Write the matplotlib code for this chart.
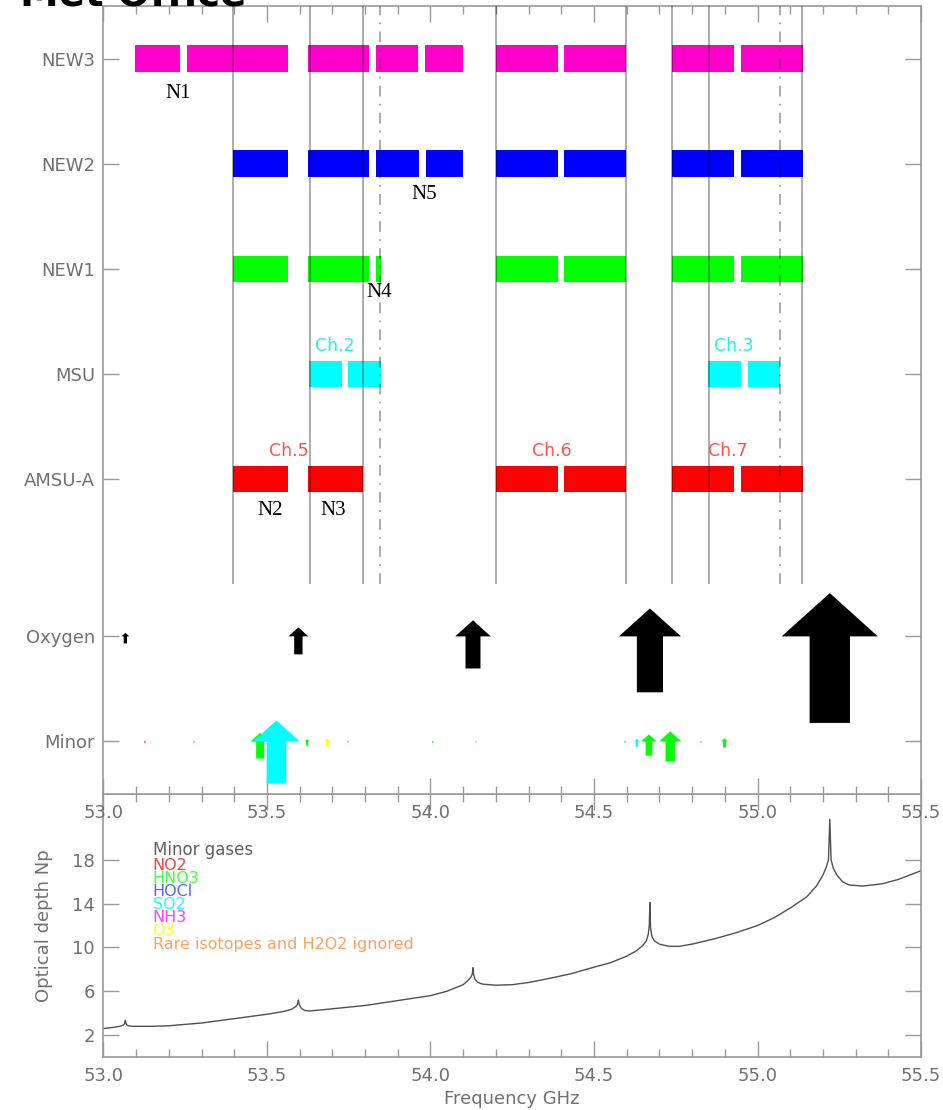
import numpy as np
import matplotlib.pyplot as plt
from matplotlib.patches import FancyArrow
from matplotlib.ticker import MultipleLocator, FormatStrFormatter

# rows of upper panel
row_names=["Minor","Oxygen","AMSU-A","MSU","NEW1","NEW2","NEW3"]
row_y=[0,1,2.5,3.5,4.5,5.5,6.5]

# passbands (GHz)
new3=[(53.095,53.234),(53.257,53.565),(53.624,53.813),(53.833,53.963),(53.984,54.099),
      (54.201,54.389),(54.409,54.598),(54.739,54.929),(54.949,55.139)]
new2=[(53.395,53.565),(53.624,53.813),(53.833,53.964),(53.986,54.099),
      (54.201,54.389),(54.409,54.598),(54.739,54.929),(54.949,55.139)]
new1=[(53.395,53.565),(53.624,53.813),(53.833,53.849),
      (54.201,54.389),(54.409,54.598),(54.739,54.929),(54.949,55.139)]
msu=[(53.630,53.730),(53.749,53.849),(54.850,54.948),(54.970,55.069)]
amsu=[(53.395,53.565),(53.625,53.795),(54.201,54.389),(54.409,54.598),(54.739,54.929),(54.949,55.139)]
bands=[amsu,msu,new1,new2,new3]
band_rows=[2.5,3.5,4.5,5.5,6.5]
band_cols=["#ff0000","#00ffff","#00ff00","#0000ff","#ff00cc"]

# channel edges
edges_solid=[53.395,53.632,53.793,54.2006,54.598,54.739,54.851,55.136]
edges_dash=[53.847,55.069]

# channel names
amsu_ch=["Ch.5","Ch.6","Ch.7"]
amsu_ch_f=[53.566,54.371,54.909]
msu_ch=["Ch.2","Ch.3"]
msu_ch_f=[53.708,54.929]

# N labels
n_names=["N1","N2","N3","N4","N5"]
n_freq=[53.228,53.51,53.704,53.844,53.982]
n_row=[6.5,2.5,2.5,4.5,5.5]
n_off=[0.33,0.30,0.30,0.23,0.29]

# oxygen lines, arrow size in GHz
o2_freq=[53.067,53.596,54.130,54.671,55.221]
o2_size=[0.024,0.061,0.109,0.190,0.294]

# minor gas lines
gas_names=["NO2","HNO3","HOCl","SO2","NH3","O3"]
gas_cols=["#ff0000","#00ff00","#0000ff","#00ffff","#ff00ff","#ffff00"]
minor_freq=[53.127,53.277,53.479,53.623,53.748,54.007,54.595,54.668,54.733,54.827,54.899,
            53.529,54.139,54.631,53.685]
minor_size=[0.006,0.006,0.058,0.015,0.006,0.006,0.006,0.048,0.068,0.006,0.021,
            0.143,0.006,0.018,0.018]
minor_gas=["NO2","HNO3","HNO3","HNO3","HNO3","HNO3","HNO3","HNO3","HNO3","HNO3","HNO3",
           "SO2","SO2","SO2","O3"]

# total optical depth
tau_f=[53.00,53.03,53.05,53.06,53.064,53.067,53.070,53.075,53.09,53.15,53.20,53.25,53.30,53.35,53.40,
       53.45,53.50,53.55,53.575,53.588,53.593,53.596,53.599,53.605,53.615,53.63,53.70,53.80,53.90,54.00,
       54.05,54.10,54.115,54.124,54.128,54.130,54.132,54.136,54.145,54.16,54.20,54.25,54.30,54.36,54.43,
       54.50,54.55,54.60,54.63,54.65,54.66,54.666,54.669,54.671,54.673,54.677,54.685,54.70,54.73,54.76,
       54.80,54.87,54.93,55.00,55.05,55.10,55.15,55.18,55.20,55.21,55.217,55.221,55.225,55.232,55.243,
       55.26,55.28,55.32,55.38,55.43,55.50]
tau=[2.6,2.7,2.8,2.9,3.0,3.35,3.0,2.85,2.8,2.8,2.85,2.98,3.1,3.3,3.5,
     3.7,3.9,4.15,4.35,4.6,4.8,5.2,4.75,4.45,4.25,4.2,4.4,4.7,5.15,5.6,
     6.0,6.6,7.0,7.3,7.6,8.15,7.5,7.1,6.8,6.65,6.55,6.6,6.8,7.15,7.6,
     8.2,8.6,9.2,9.7,10.2,10.6,11.2,12.0,14.1,11.8,11.0,10.6,10.3,10.1,10.1,
     10.3,10.8,11.3,12.0,12.7,13.6,14.6,15.6,16.6,17.3,18.0,21.7,18.0,17.2,16.6,
     16.0,15.7,15.6,15.8,16.2,17.0]

legend_txt=["Minor gases"]+gas_names+["Rare isotopes and H2O2 ignored"]
legend_col=["#606060","#ff4040","#40ff40","#6060ff","#20ffff","#ff40ff","#ffff20","#ffa060"]

grey="#999999"
tgrey="#707070"

fig=plt.figure(figsize=(9.43,11.10),dpi=100)
ax=fig.add_axes([0.1097,0.2847,0.867,0.7099])
ax2=fig.add_axes([0.1097,0.04775,0.867,0.2369])
ax.set_zorder(3)

ax.set_xlim(53,55.5)
ax.set_ylim(-0.5,7)
ax2.set_xlim(53,55.5)
ax2.set_ylim(0,24)

for b,r,c in zip(bands,band_rows,band_cols):
    ax.broken_barh([(s,e-s) for s,e in b],(r-0.125,0.25),facecolors=c,zorder=2)

ax.vlines(edges_solid,1.5,7,colors="k",alpha=0.35,lw=1.3,zorder=3)
ax.vlines(edges_dash,1.5,7,colors="k",alpha=0.35,lw=1.3,linestyles=(0,(6,4,1,4)),zorder=3)

for t,f in zip(amsu_ch,amsu_ch_f):
    ax.text(f,2.5+0.26,t,color="#ff5050",fontsize=12.5,ha="center",va="center")
for t,f in zip(msu_ch,msu_ch_f):
    ax.text(f,3.5+0.26,t,color="#20f0f0",fontsize=12.5,ha="center",va="center")
for t,f,r,o in zip(n_names,n_freq,n_row,n_off):
    ax.text(f,r-o,t,color="k",fontsize=15,family="Liberation Serif",ha="center",va="center",zorder=5)

# arrows: need y-units per GHz on screen
p0=ax.transData.transform((53,0))
p1=ax.transData.transform((54,1))
k=(p1[0]-p0[0])/(p1[1]-p0[1])

def arrow(f,y0,w,col):
    hl=0.45*w*k
    sl=0.9*w*k
    a=FancyArrow(f,y0-sl,0,sl+hl,width=0.42*w,head_width=w,head_length=hl,
                 length_includes_head=True,color=col,lw=0,zorder=4)
    ax.add_patch(a)

for f,w in zip(o2_freq,o2_size):
    arrow(f,1,w,"k")
for g,c in zip(gas_names,gas_cols):
    for f,w,gg in zip(minor_freq,minor_size,minor_gas):
        if gg==g:
            arrow(f,0,w,c)

ax.set_yticks(row_y)
ax.set_yticklabels(row_names)
for a in (ax,ax2):
    a.xaxis.set_major_locator(MultipleLocator(0.5))
    a.xaxis.set_minor_locator(MultipleLocator(0.1))
    a.xaxis.set_major_formatter(FormatStrFormatter("%.1f"))
    a.tick_params(axis="x",which="major",direction="in",top=True,bottom=True,length=11.5,width=1,color=grey,
                  labelsize=13,labelcolor=tgrey,pad=7.5)
    a.tick_params(axis="x",which="minor",direction="in",top=True,bottom=True,length=5.8,width=1,color=grey)
    a.tick_params(axis="y",which="both",direction="in",left=True,right=True,length=11.5,width=1,color=grey,
                  labelsize=13,labelcolor=tgrey,pad=6)
    for s in a.spines.values():
        s.set_color(grey)
        s.set_linewidth(1.2)
ax2.yaxis.set_minor_locator(plt.NullLocator())
ax2.set_yticks([2,6,10,14,18])

ax2.plot(tau_f,tau,color="#505050",lw=1)
ax2.set_xlabel("Frequency GHz",fontsize=13,color=tgrey)
ax2.xaxis.set_label_coords(0.5,-0.125)
ax2.set_ylabel("Optical depth Np",fontsize=13,color=tgrey)
ax2.yaxis.set_label_coords(-0.062,0.5)

ly=[18.9,17.5,16.3,15.1,13.9,12.7,11.5,10.3]
for t,c,y in zip(legend_txt,legend_col,ly):
    ax2.text(53.15,y,t,color=c,fontsize=12 if t=="Minor gases" else 11.5,va="center",ha="left")

# logo only partly on the page, as in the original
fig.text(20/943,1-6/1110,"Met Office",fontsize=28,fontweight="bold",va="baseline",ha="left")

fig.savefig("out.png",dpi=100)
